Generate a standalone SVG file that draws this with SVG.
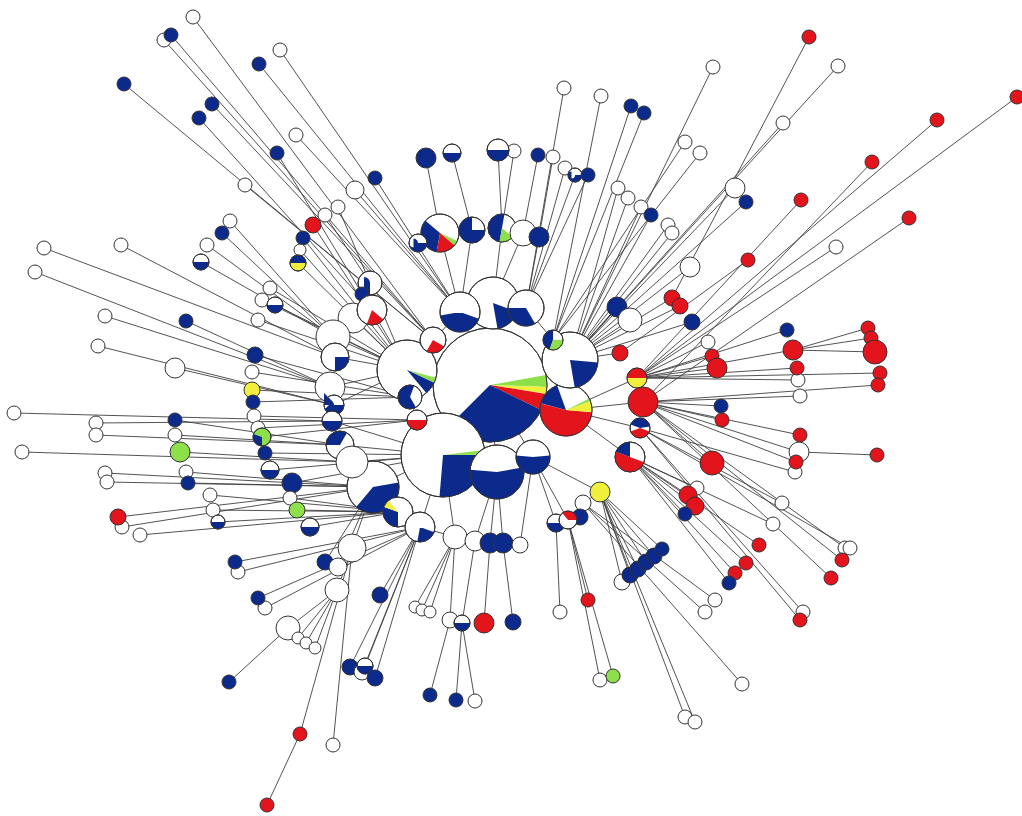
<svg xmlns="http://www.w3.org/2000/svg" width="1022" height="816" viewBox="0 0 1022 816">
<style>
.e path{stroke:#404040;stroke-width:0.9;fill:none}
circle.W{fill:#fff;stroke:#333;stroke-width:1}
circle.B{fill:#0c2a8c;stroke:#333;stroke-width:1}
circle.R{fill:#e3141c;stroke:#333;stroke-width:1}
circle.G{fill:#8ee04a;stroke:#333;stroke-width:1}
circle.Y{fill:#f0f03c;stroke:#333;stroke-width:1}
circle.s{fill:none}
.sb{stroke:#0c2a8c}.sr{stroke:#e3141c}.sg{stroke:#8ee04a}.sy{stroke:#f0f03c}
circle.o{fill:none;stroke:#333;stroke-width:1}
</style>
<rect width="1022" height="816" fill="#fff"/>
<g id="connectors" class="e">
<path d="M193 17L433 340"/><path d="M164 40L433 340"/><path d="M171 35L433 340"/><path d="M124 84L433 340"/><path d="M212 104L433 340"/><path d="M199 118L372 310"/><path d="M259 64L460 312"/><path d="M280 50L460 312"/><path d="M296 135L460 312"/><path d="M277 153L372 310"/><path d="M245 185L433 340"/><path d="M313 225L407 370"/><path d="M303 238L407 370"/><path d="M325 215L370 283"/><path d="M338 207L370 283"/><path d="M298 263L407 370"/><path d="M300 250L407 370"/><path d="M222 233L333 337"/><path d="M230 221L333 337"/><path d="M207 245L333 337"/><path d="M201 262L333 337"/><path d="M44 248L335 357"/><path d="M121 245L335 357"/><path d="M35 272L330 387"/><path d="M355 190L460 312"/><path d="M375 178L460 312"/>
<path d="M105 316L330 387"/><path d="M186 321L330 387"/><path d="M98 346L334 405"/><path d="M175 368L334 405"/><path d="M14 413L332 421"/><path d="M96 423L332 421"/><path d="M96 435L340 445"/><path d="M175 420L340 445"/><path d="M175 435L340 445"/><path d="M180 452L352 462"/><path d="M22 452L352 462"/><path d="M105 473L373 487"/><path d="M107 482L373 487"/><path d="M186 472L373 487"/><path d="M188 483L373 487"/><path d="M118 517L373 487"/><path d="M122 527L373 487"/><path d="M140 535L398 512"/><path d="M210 495L398 512"/><path d="M213 510L398 512"/><path d="M218 522L398 512"/>
<path d="M270 288L407 370"/><path d="M262 300L407 370"/><path d="M275 305L407 370"/><path d="M258 320L407 370"/><path d="M255 355L410 397"/><path d="M252 372L410 397"/><path d="M252 390L410 397"/><path d="M253 402L410 397"/><path d="M254 416L417 420"/><path d="M258 428L417 420"/><path d="M262 437L417 420"/><path d="M265 453L443 455"/><path d="M270 470L443 455"/><path d="M292 483L443 455"/><path d="M290 498L398 512"/><path d="M297 510L398 512"/><path d="M310 527L398 512"/>
<path d="M235 562L420 527"/><path d="M238 572L420 527"/><path d="M258 598L420 527"/><path d="M265 608L420 527"/><path d="M288 628L337 590"/><path d="M298 638L337 590"/><path d="M306 643L337 590"/><path d="M315 648L337 590"/><path d="M229 682L288 628"/><path d="M300 734L352 548"/><path d="M267 805L300 734"/><path d="M333 745L352 548"/><path d="M325 562L373 487"/><path d="M338 567L373 487"/>
<path d="M380 595L420 527"/><path d="M350 667L420 527"/><path d="M362 672L420 527"/><path d="M375 678L420 527"/><path d="M365 666L420 527"/><path d="M415 607L455 537"/><path d="M422 610L455 537"/><path d="M430 612L455 537"/><path d="M450 620L455 537"/><path d="M462 623L475 541"/><path d="M484 623L490 543"/><path d="M513 622L503 543"/><path d="M430 695L450 620"/><path d="M456 700L462 623"/><path d="M475 701L462 623"/>
<path d="M560 612L556 523"/><path d="M588 600L568 520"/><path d="M600 680L568 520"/><path d="M613 676L568 520"/><path d="M622 582L600 492"/><path d="M630 575L600 492"/><path d="M638 569L600 492"/><path d="M646 562L600 492"/><path d="M654 556L600 492"/><path d="M662 549L600 492"/><path d="M685 717L600 492"/><path d="M695 722L600 492"/><path d="M742 684L583 503"/><path d="M715 600L583 503"/><path d="M705 612L583 503"/>
<path d="M729 583L630 457"/><path d="M735 573L630 457"/><path d="M746 563L630 457"/><path d="M800 620L640 428"/><path d="M803 612L640 428"/><path d="M831 578L643 402"/><path d="M845 548L643 402"/><path d="M842 560L643 402"/><path d="M759 545L630 457"/><path d="M773 524L630 457"/><path d="M782 503L640 428"/><path d="M850 548L640 428"/><path d="M688 495L630 457"/><path d="M695 506L630 457"/><path d="M685 514L630 457"/><path d="M697 488L630 457"/><path d="M712 463L643 402"/><path d="M800 435L643 402"/><path d="M799 452L643 402"/><path d="M796 462L643 402"/><path d="M795 472L640 428"/><path d="M877 455L799 452"/><path d="M721 406L643 402"/><path d="M722 420L643 402"/><path d="M800 396L643 402"/><path d="M880 373L637 378"/><path d="M878 385L643 402"/><path d="M797 368L637 378"/><path d="M798 380L637 378"/><path d="M708 342L637 378"/><path d="M712 356L637 378"/><path d="M717 368L637 378"/><path d="M793 350L637 378"/><path d="M787 330L637 378"/><path d="M868 328L793 350"/><path d="M871 338L793 350"/><path d="M875 352L793 350"/>
<path d="M672 298L570 360"/><path d="M680 306L570 360"/><path d="M692 322L570 360"/><path d="M809 37L672 298"/><path d="M713 67L570 360"/><path d="M838 66L570 360"/><path d="M783 123L570 360"/><path d="M1017 97L637 378"/><path d="M937 120L637 378"/><path d="M872 162L643 402"/><path d="M801 200L637 378"/><path d="M909 218L643 402"/><path d="M836 247L637 378"/><path d="M748 260L620 353"/><path d="M685 142L553 340"/><path d="M700 153L553 340"/><path d="M735 188L570 360"/><path d="M746 202L570 360"/><path d="M690 267L570 360"/>
<path d="M426 158L440 233"/><path d="M452 153L472 230"/><path d="M498 150L502 228"/><path d="M514 151L502 228"/><path d="M538 155L523 233"/><path d="M553 157L539 237"/><path d="M565 168L526 308"/><path d="M575 175L526 308"/><path d="M588 175L526 308"/><path d="M564 88L526 308"/><path d="M601 96L553 340"/><path d="M631 106L553 340"/><path d="M644 113L553 340"/><path d="M618 188L570 360"/><path d="M628 198L570 360"/><path d="M641 207L570 360"/><path d="M651 215L570 360"/><path d="M668 225L570 360"/><path d="M672 233L570 360"/>
<path d="M490 385L566 410"/><path d="M490 385L443 455"/><path d="M490 385L497 472"/><path d="M490 385L533 457"/><path d="M490 385L493 303"/><path d="M490 385L460 312"/><path d="M490 385L570 360"/><path d="M490 385L407 370"/><path d="M407 370L433 340"/><path d="M433 340L460 312"/><path d="M493 303L526 308"/><path d="M493 303L460 312"/><path d="M526 308L570 360"/><path d="M460 312L440 233"/><path d="M460 312L472 230"/><path d="M493 303L502 228"/><path d="M493 303L523 233"/><path d="M526 308L539 237"/><path d="M440 233L418 243"/><path d="M407 370L410 397"/><path d="M410 397L417 420"/><path d="M417 420L443 455"/><path d="M443 455L373 487"/><path d="M373 487L398 512"/><path d="M398 512L420 527"/><path d="M443 455L420 527"/><path d="M420 527L455 537"/><path d="M443 455L455 537"/><path d="M497 472L475 541"/><path d="M497 472L490 543"/><path d="M497 472L503 543"/><path d="M533 457L520 545"/><path d="M570 360L553 340"/><path d="M566 410L637 378"/><path d="M566 410L643 402"/><path d="M566 410L640 428"/><path d="M566 410L630 457"/><path d="M533 457L600 492"/><path d="M600 492L583 503"/><path d="M533 457L556 523"/><path d="M533 457L568 520"/><path d="M568 520L580 517"/><path d="M570 360L617 307"/><path d="M570 360L630 320"/><path d="M570 360L620 353"/><path d="M407 370L370 283"/><path d="M370 283L362 294"/><path d="M407 370L372 310"/><path d="M407 370L353 318"/><path d="M407 370L333 337"/><path d="M407 370L335 357"/><path d="M407 370L330 387"/><path d="M407 370L334 405"/><path d="M443 455L332 421"/><path d="M443 455L340 445"/><path d="M443 455L352 462"/><path d="M337 590L352 548"/><path d="M352 548L373 487"/>
</g>
<g id="hA"><circle class="W" cx="490" cy="385" r="57"/><circle class="s sg" cx="490" cy="385" r="28.5" stroke-width="57" pathLength="360" stroke-dasharray="12 360" transform="rotate(-10 490 385)"/><circle class="s sy" cx="490" cy="385" r="28.5" stroke-width="57" pathLength="360" stroke-dasharray="7 360" transform="rotate(2 490 385)"/><circle class="s sr" cx="490" cy="385" r="28.5" stroke-width="57" pathLength="360" stroke-dasharray="17 360" transform="rotate(9 490 385)"/><circle class="s sb" cx="490" cy="385" r="28.5" stroke-width="57" pathLength="360" stroke-dasharray="109 360" transform="rotate(26 490 385)"/><circle class="o" cx="490" cy="385" r="57"/></g>
<g id="hC"><circle class="W" cx="443" cy="455" r="42"/><circle class="s sg" cx="443" cy="455" r="21" stroke-width="42" pathLength="360" stroke-dasharray="7 360" transform="rotate(-7 443 455)"/><circle class="s sb" cx="443" cy="455" r="21" stroke-width="42" pathLength="360" stroke-dasharray="95 360" transform="rotate(0 443 455)"/><circle class="o" cx="443" cy="455" r="42"/></g>
<g id="hD"><circle class="W" cx="497" cy="472" r="27"/><circle class="s sb" cx="497" cy="472" r="13.5" stroke-width="27" pathLength="360" stroke-dasharray="195 360" transform="rotate(-10 497 472)"/><circle class="o" cx="497" cy="472" r="27"/></g>
<g id="hE"><circle class="W" cx="533" cy="457" r="17"/><circle class="s sb" cx="533" cy="457" r="8.5" stroke-width="17" pathLength="360" stroke-dasharray="190 360" transform="rotate(-5 533 457)"/><circle class="o" cx="533" cy="457" r="17"/></g>
<g id="hB"><circle class="W" cx="566" cy="410" r="26"/><circle class="s sr" cx="566" cy="410" r="13" stroke-width="26" pathLength="360" stroke-dasharray="190 360" transform="rotate(5 566 410)"/><circle class="s sb" cx="566" cy="410" r="13" stroke-width="26" pathLength="360" stroke-dasharray="55 360" transform="rotate(195 566 410)"/><circle class="s sy" cx="566" cy="410" r="13" stroke-width="26" pathLength="360" stroke-dasharray="25 360" transform="rotate(-20 566 410)"/><circle class="s sg" cx="566" cy="410" r="13" stroke-width="26" pathLength="360" stroke-dasharray="6 360" transform="rotate(-26 566 410)"/><circle class="o" cx="566" cy="410" r="26"/></g>
<g id="hH"><circle class="W" cx="570" cy="360" r="28"/><circle class="s sb" cx="570" cy="360" r="14" stroke-width="28" pathLength="360" stroke-dasharray="75 360" transform="rotate(5 570 360)"/><circle class="o" cx="570" cy="360" r="28"/></g>
<g id="hF1"><circle class="W" cx="493" cy="303" r="26"/><circle class="s sb" cx="493" cy="303" r="13" stroke-width="26" pathLength="360" stroke-dasharray="60 360" transform="rotate(20 493 303)"/><circle class="o" cx="493" cy="303" r="26"/></g>
<g id="hF2"><circle class="W" cx="526" cy="308" r="18"/><circle class="s sb" cx="526" cy="308" r="9" stroke-width="18" pathLength="360" stroke-dasharray="120 360" transform="rotate(60 526 308)"/><circle class="o" cx="526" cy="308" r="18"/></g>
<g id="hG"><circle class="W" cx="460" cy="312" r="20"/><circle class="s sb" cx="460" cy="312" r="10" stroke-width="20" pathLength="360" stroke-dasharray="150 360" transform="rotate(20 460 312)"/><circle class="o" cx="460" cy="312" r="20"/></g>
<g id="hI"><circle class="W" cx="407" cy="370" r="30"/><circle class="s sg" cx="407" cy="370" r="15" stroke-width="30" pathLength="360" stroke-dasharray="10 360" transform="rotate(15 407 370)"/><circle class="s sb" cx="407" cy="370" r="15" stroke-width="30" pathLength="360" stroke-dasharray="25 360" transform="rotate(25 407 370)"/><circle class="o" cx="407" cy="370" r="30"/></g>
<g id="hJ"><circle class="W" cx="373" cy="487" r="26"/><circle class="s sb" cx="373" cy="487" r="13" stroke-width="26" pathLength="360" stroke-dasharray="140 360" transform="rotate(-10 373 487)"/><circle class="o" cx="373" cy="487" r="26"/></g>
<g id="hK"><circle class="W" cx="440" cy="233" r="19"/><circle class="s sb" cx="440" cy="233" r="9.5" stroke-width="19" pathLength="360" stroke-dasharray="120 360" transform="rotate(100 440 233)"/><circle class="s sr" cx="440" cy="233" r="9.5" stroke-width="19" pathLength="360" stroke-dasharray="60 360" transform="rotate(40 440 233)"/><circle class="s sg" cx="440" cy="233" r="9.5" stroke-width="19" pathLength="360" stroke-dasharray="15 360" transform="rotate(25 440 233)"/><circle class="o" cx="440" cy="233" r="19"/></g>
<g id="hL"><circle class="W" cx="472" cy="230" r="13"/><circle class="s sb" cx="472" cy="230" r="6.5" stroke-width="13" pathLength="360" stroke-dasharray="270 360" transform="rotate(0 472 230)"/><circle class="o" cx="472" cy="230" r="13"/></g>
<g id="hM"><circle class="W" cx="502" cy="228" r="14"/><circle class="s sb" cx="502" cy="228" r="7" stroke-width="14" pathLength="360" stroke-dasharray="180 360" transform="rotate(100 502 228)"/><circle class="s sg" cx="502" cy="228" r="7" stroke-width="14" pathLength="360" stroke-dasharray="60 360" transform="rotate(40 502 228)"/><circle class="o" cx="502" cy="228" r="14"/></g>
<g id="hN"><circle class="W" cx="523" cy="233" r="13"/></g>
<g id="hO"><circle class="B" cx="539" cy="237" r="10"/></g>
<g id="hP"><circle class="W" cx="418" cy="243" r="9"/><circle class="s sb" cx="418" cy="243" r="4.5" stroke-width="9" pathLength="360" stroke-dasharray="180 360"/><circle class="o" cx="418" cy="243" r="9"/></g>
<g id="hQ"><circle class="W" cx="433" cy="340" r="13"/><circle class="s sr" cx="433" cy="340" r="6.5" stroke-width="13" pathLength="360" stroke-dasharray="90 360" transform="rotate(30 433 340)"/><circle class="o" cx="433" cy="340" r="13"/></g>
<g id="hS1"><circle class="W" cx="553" cy="340" r="10"/><circle class="s sb" cx="553" cy="340" r="5" stroke-width="10" pathLength="360" stroke-dasharray="160 360" transform="rotate(110 553 340)"/><circle class="s sg" cx="553" cy="340" r="5" stroke-width="10" pathLength="360" stroke-dasharray="110 360"/><circle class="o" cx="553" cy="340" r="10"/></g>
<g id="hS2"><circle class="W" cx="410" cy="397" r="12"/><circle class="s sb" cx="410" cy="397" r="6" stroke-width="12" pathLength="360" stroke-dasharray="230 360" transform="rotate(60 410 397)"/><circle class="o" cx="410" cy="397" r="12"/></g>
<g id="hS3"><circle class="W" cx="417" cy="420" r="10"/><circle class="s sr" cx="417" cy="420" r="5" stroke-width="10" pathLength="360" stroke-dasharray="180 360"/><circle class="o" cx="417" cy="420" r="10"/></g>
<g id="hS4"><circle class="W" cx="398" cy="512" r="15"/><circle class="s sb" cx="398" cy="512" r="7.5" stroke-width="15" pathLength="360" stroke-dasharray="110 360" transform="rotate(90 398 512)"/><circle class="s sy" cx="398" cy="512" r="7.5" stroke-width="15" pathLength="360" stroke-dasharray="30 360" transform="rotate(200 398 512)"/><circle class="o" cx="398" cy="512" r="15"/></g>
<g id="hS5"><circle class="W" cx="420" cy="527" r="15"/><circle class="s sb" cx="420" cy="527" r="7.5" stroke-width="15" pathLength="360" stroke-dasharray="80 360" transform="rotate(20 420 527)"/><circle class="o" cx="420" cy="527" r="15"/></g>
<g id="hS6"><circle class="W" cx="455" cy="537" r="12"/></g>
<g id="hS7"><circle class="W" cx="475" cy="541" r="10"/></g>
<g id="hS8"><circle class="B" cx="490" cy="543" r="10"/></g>
<g id="hS9"><circle class="B" cx="503" cy="543" r="10"/></g>
<g id="hS10"><circle class="W" cx="520" cy="545" r="8"/></g>
<g id="hLR1"><circle class="W" cx="370" cy="283" r="12"/><circle class="s sb" cx="370" cy="283" r="6" stroke-width="12" pathLength="360" stroke-dasharray="90 360" transform="rotate(90 370 283)"/><circle class="o" cx="370" cy="283" r="12"/></g>
<g id="hLR2"><circle class="B" cx="362" cy="294" r="7"/></g>
<g id="hLR4"><circle class="W" cx="353" cy="318" r="15"/></g>
<g id="hLR3"><circle class="W" cx="372" cy="310" r="15"/><circle class="s sr" cx="372" cy="310" r="7.5" stroke-width="15" pathLength="360" stroke-dasharray="70 360" transform="rotate(40 372 310)"/><circle class="o" cx="372" cy="310" r="15"/></g>
<g id="hLR5"><circle class="W" cx="333" cy="337" r="17"/></g>
<g id="hLR6"><circle class="W" cx="335" cy="357" r="14"/><circle class="s sb" cx="335" cy="357" r="7" stroke-width="14" pathLength="360" stroke-dasharray="90 360"/><circle class="o" cx="335" cy="357" r="14"/></g>
<g id="hLR7"><circle class="W" cx="330" cy="387" r="15"/></g>
<g id="hLR8"><circle class="W" cx="334" cy="405" r="10"/><circle class="s sb" cx="334" cy="405" r="5" stroke-width="10" pathLength="360" stroke-dasharray="180 360"/><circle class="o" cx="334" cy="405" r="10"/></g>
<g id="hLR9"><circle class="W" cx="332" cy="421" r="10"/><circle class="s sb" cx="332" cy="421" r="5" stroke-width="10" pathLength="360" stroke-dasharray="180 360"/><circle class="o" cx="332" cy="421" r="10"/></g>
<g id="hLR10"><circle class="W" cx="340" cy="445" r="14"/><circle class="s sb" cx="340" cy="445" r="7" stroke-width="14" pathLength="360" stroke-dasharray="120 360" transform="rotate(180 340 445)"/><circle class="o" cx="340" cy="445" r="14"/></g>
<g id="hLR11"><circle class="W" cx="352" cy="462" r="16"/></g>
<g id="hM2"><circle class="W" cx="352" cy="548" r="14"/></g>
<g id="hM1"><circle class="W" cx="337" cy="590" r="12"/></g>
<g id="hR1"><circle class="B" cx="617" cy="307" r="10"/></g>
<g id="hR2"><circle class="W" cx="630" cy="320" r="12"/></g>
<g id="hR3"><circle class="R" cx="620" cy="353" r="8"/></g>
<g id="hR4"><circle class="W" cx="637" cy="378" r="10"/><circle class="s sy" cx="637" cy="378" r="5" stroke-width="10" pathLength="360" stroke-dasharray="180 360"/><circle class="s sr" cx="637" cy="378" r="5" stroke-width="10" pathLength="360" stroke-dasharray="180 360" transform="rotate(180 637 378)"/><circle class="o" cx="637" cy="378" r="10"/></g>
<g id="hR5"><circle class="R" cx="643" cy="402" r="15"/></g>
<g id="hR6"><circle class="W" cx="640" cy="428" r="10"/><circle class="s sb" cx="640" cy="428" r="5" stroke-width="10" pathLength="360" stroke-dasharray="150 360" transform="rotate(200 640 428)"/><circle class="s sr" cx="640" cy="428" r="5" stroke-width="10" pathLength="360" stroke-dasharray="140 360" transform="rotate(20 640 428)"/><circle class="o" cx="640" cy="428" r="10"/></g>
<g id="hR7"><circle class="W" cx="630" cy="457" r="15"/><circle class="s sr" cx="630" cy="457" r="7.5" stroke-width="15" pathLength="360" stroke-dasharray="180 360" transform="rotate(20 630 457)"/><circle class="s sb" cx="630" cy="457" r="7.5" stroke-width="15" pathLength="360" stroke-dasharray="70 360" transform="rotate(200 630 457)"/><circle class="o" cx="630" cy="457" r="15"/></g>
<g id="hR8"><circle class="Y" cx="600" cy="492" r="10"/></g>
<g id="hR9"><circle class="W" cx="583" cy="503" r="8"/></g>
<g id="hR10"><circle class="W" cx="556" cy="523" r="9"/><circle class="s sb" cx="556" cy="523" r="4.5" stroke-width="9" pathLength="360" stroke-dasharray="180 360"/><circle class="o" cx="556" cy="523" r="9"/></g>
<g id="hR12"><circle class="B" cx="580" cy="517" r="8"/></g>
<g id="hR11"><circle class="W" cx="568" cy="520" r="9"/><circle class="s sr" cx="568" cy="520" r="4.5" stroke-width="9" pathLength="360" stroke-dasharray="130 360" transform="rotate(230 568 520)"/><circle class="o" cx="568" cy="520" r="9"/></g>
<g id="n1"><circle class="W" cx="193" cy="17" r="7"/></g>
<g id="n2"><circle class="W" cx="164" cy="40" r="7"/></g>
<g id="n3"><circle class="B" cx="171" cy="35" r="7"/></g>
<g id="n4"><circle class="B" cx="124" cy="84" r="7"/></g>
<g id="n5"><circle class="B" cx="212" cy="104" r="7"/></g>
<g id="n6"><circle class="B" cx="199" cy="118" r="7"/></g>
<g id="n7"><circle class="B" cx="259" cy="64" r="7"/></g>
<g id="n8"><circle class="W" cx="280" cy="50" r="7"/></g>
<g id="n9"><circle class="W" cx="296" cy="135" r="7"/></g>
<g id="n10"><circle class="B" cx="277" cy="153" r="7"/></g>
<g id="n11"><circle class="W" cx="245" cy="185" r="7"/></g>
<g id="n14"><circle class="W" cx="325" cy="215" r="7"/></g>
<g id="n15"><circle class="W" cx="338" cy="207" r="7"/></g>
<g id="n12"><circle class="R" cx="313" cy="225" r="8"/></g>
<g id="n13"><circle class="B" cx="303" cy="238" r="7"/></g>
<g id="n17"><circle class="W" cx="300" cy="250" r="6"/></g>
<g id="n16"><circle class="Y" cx="298" cy="263" r="8"/><circle class="s sb" cx="298" cy="263" r="4" stroke-width="8" pathLength="360" stroke-dasharray="180 360" transform="rotate(180 298 263)"/><circle class="o" cx="298" cy="263" r="8"/></g>
<g id="n19"><circle class="W" cx="230" cy="221" r="7"/></g>
<g id="n18"><circle class="B" cx="222" cy="233" r="7"/></g>
<g id="n20"><circle class="W" cx="207" cy="245" r="7"/></g>
<g id="n21"><circle class="W" cx="201" cy="262" r="8"/><circle class="s sb" cx="201" cy="262" r="4" stroke-width="8" pathLength="360" stroke-dasharray="180 360"/><circle class="o" cx="201" cy="262" r="8"/></g>
<g id="n22"><circle class="W" cx="44" cy="248" r="7"/></g>
<g id="n23"><circle class="W" cx="121" cy="245" r="7"/></g>
<g id="n24"><circle class="W" cx="35" cy="272" r="7"/></g>
<g id="n25"><circle class="W" cx="355" cy="190" r="9"/></g>
<g id="n26"><circle class="B" cx="375" cy="178" r="7"/></g>
<g id="n27"><circle class="W" cx="105" cy="316" r="7"/></g>
<g id="n28"><circle class="B" cx="186" cy="321" r="7"/></g>
<g id="n29"><circle class="W" cx="98" cy="346" r="7"/></g>
<g id="n30"><circle class="W" cx="175" cy="368" r="10"/></g>
<g id="n31"><circle class="W" cx="14" cy="413" r="7"/></g>
<g id="n32"><circle class="W" cx="96" cy="423" r="7"/></g>
<g id="n33"><circle class="W" cx="96" cy="435" r="7"/></g>
<g id="n34"><circle class="B" cx="175" cy="420" r="7"/></g>
<g id="n35"><circle class="W" cx="175" cy="435" r="7"/></g>
<g id="n36"><circle class="G" cx="180" cy="452" r="10"/></g>
<g id="n37"><circle class="W" cx="22" cy="452" r="7"/></g>
<g id="n38"><circle class="W" cx="105" cy="473" r="7"/></g>
<g id="n39"><circle class="W" cx="107" cy="482" r="7"/></g>
<g id="n40"><circle class="W" cx="186" cy="472" r="7"/></g>
<g id="n41"><circle class="B" cx="188" cy="483" r="7"/></g>
<g id="n43"><circle class="W" cx="122" cy="527" r="7"/></g>
<g id="n42"><circle class="R" cx="118" cy="517" r="8"/></g>
<g id="n44"><circle class="W" cx="140" cy="535" r="7"/></g>
<g id="n45"><circle class="W" cx="210" cy="495" r="7"/></g>
<g id="n46"><circle class="W" cx="213" cy="510" r="7"/></g>
<g id="n47"><circle class="W" cx="218" cy="522" r="7"/><circle class="s sb" cx="218" cy="522" r="3.5" stroke-width="7" pathLength="360" stroke-dasharray="180 360"/><circle class="o" cx="218" cy="522" r="7"/></g>
<g id="n48"><circle class="W" cx="270" cy="288" r="7"/></g>
<g id="n49"><circle class="W" cx="262" cy="300" r="7"/></g>
<g id="n50"><circle class="W" cx="275" cy="305" r="8"/><circle class="s sb" cx="275" cy="305" r="4" stroke-width="8" pathLength="360" stroke-dasharray="180 360"/><circle class="o" cx="275" cy="305" r="8"/></g>
<g id="n51"><circle class="W" cx="258" cy="320" r="7"/></g>
<g id="n52"><circle class="B" cx="255" cy="355" r="8"/></g>
<g id="n53"><circle class="W" cx="252" cy="372" r="7"/></g>
<g id="n54"><circle class="Y" cx="252" cy="390" r="8"/></g>
<g id="n55"><circle class="B" cx="253" cy="402" r="7"/></g>
<g id="n56"><circle class="W" cx="254" cy="416" r="7"/></g>
<g id="n57"><circle class="W" cx="258" cy="428" r="7"/></g>
<g id="n58"><circle class="G" cx="262" cy="437" r="9"/><circle class="s sb" cx="262" cy="437" r="4.5" stroke-width="9" pathLength="360" stroke-dasharray="110 360" transform="rotate(90 262 437)"/><circle class="o" cx="262" cy="437" r="9"/></g>
<g id="n59"><circle class="B" cx="265" cy="453" r="7"/></g>
<g id="n60"><circle class="W" cx="270" cy="470" r="9"/><circle class="s sb" cx="270" cy="470" r="4.5" stroke-width="9" pathLength="360" stroke-dasharray="180 360"/><circle class="o" cx="270" cy="470" r="9"/></g>
<g id="n61"><circle class="B" cx="292" cy="483" r="10"/></g>
<g id="n62"><circle class="W" cx="290" cy="498" r="7"/></g>
<g id="n63"><circle class="G" cx="297" cy="510" r="8"/></g>
<g id="n64"><circle class="W" cx="310" cy="527" r="9"/><circle class="s sb" cx="310" cy="527" r="4.5" stroke-width="9" pathLength="360" stroke-dasharray="180 360"/><circle class="o" cx="310" cy="527" r="9"/></g>
<g id="n66"><circle class="W" cx="238" cy="572" r="7"/></g>
<g id="n65"><circle class="B" cx="235" cy="562" r="7"/></g>
<g id="n68"><circle class="W" cx="265" cy="608" r="7"/></g>
<g id="n67"><circle class="B" cx="258" cy="598" r="7"/></g>
<g id="n69"><circle class="W" cx="288" cy="628" r="12"/></g>
<g id="n70"><circle class="W" cx="298" cy="638" r="6"/></g>
<g id="n71"><circle class="W" cx="306" cy="643" r="6"/></g>
<g id="n72"><circle class="W" cx="315" cy="648" r="6"/></g>
<g id="n73"><circle class="B" cx="229" cy="682" r="7"/></g>
<g id="n74"><circle class="R" cx="300" cy="734" r="7"/></g>
<g id="n75"><circle class="R" cx="267" cy="805" r="7"/></g>
<g id="n76"><circle class="W" cx="333" cy="745" r="7"/></g>
<g id="n77"><circle class="B" cx="325" cy="562" r="8"/></g>
<g id="n78"><circle class="W" cx="338" cy="567" r="9"/></g>
<g id="n79"><circle class="B" cx="380" cy="595" r="8"/></g>
<g id="n80"><circle class="B" cx="350" cy="667" r="8"/></g>
<g id="n81"><circle class="W" cx="362" cy="672" r="8"/></g>
<g id="n83"><circle class="W" cx="365" cy="666" r="8"/><circle class="s sb" cx="365" cy="666" r="4" stroke-width="8" pathLength="360" stroke-dasharray="180 360"/><circle class="o" cx="365" cy="666" r="8"/></g>
<g id="n82"><circle class="B" cx="375" cy="678" r="8"/></g>
<g id="n84"><circle class="W" cx="415" cy="607" r="6"/></g>
<g id="n85"><circle class="W" cx="422" cy="610" r="6"/></g>
<g id="n86"><circle class="W" cx="430" cy="612" r="6"/></g>
<g id="n87"><circle class="W" cx="450" cy="620" r="8"/></g>
<g id="n88"><circle class="W" cx="462" cy="623" r="8"/><circle class="s sb" cx="462" cy="623" r="4" stroke-width="8" pathLength="360" stroke-dasharray="180 360"/><circle class="o" cx="462" cy="623" r="8"/></g>
<g id="n89"><circle class="R" cx="484" cy="623" r="10"/></g>
<g id="n90"><circle class="B" cx="513" cy="622" r="8"/></g>
<g id="n91"><circle class="B" cx="430" cy="695" r="7"/></g>
<g id="n92"><circle class="B" cx="456" cy="700" r="7"/></g>
<g id="n93"><circle class="W" cx="475" cy="701" r="7"/></g>
<g id="n94"><circle class="W" cx="560" cy="612" r="7"/></g>
<g id="n95"><circle class="R" cx="588" cy="600" r="7"/></g>
<g id="n96"><circle class="W" cx="600" cy="680" r="7"/></g>
<g id="n97"><circle class="G" cx="613" cy="676" r="7"/></g>
<g id="n98"><circle class="W" cx="622" cy="582" r="8"/></g>
<g id="n99"><circle class="B" cx="630" cy="575" r="8"/></g>
<g id="n100"><circle class="B" cx="638" cy="569" r="8"/></g>
<g id="n101"><circle class="B" cx="646" cy="562" r="8"/></g>
<g id="n102"><circle class="B" cx="654" cy="556" r="8"/></g>
<g id="n103"><circle class="B" cx="662" cy="549" r="7"/></g>
<g id="n104"><circle class="W" cx="685" cy="717" r="7"/></g>
<g id="n105"><circle class="W" cx="695" cy="722" r="7"/></g>
<g id="n106"><circle class="W" cx="742" cy="684" r="7"/></g>
<g id="n107"><circle class="W" cx="715" cy="600" r="7"/></g>
<g id="n108"><circle class="W" cx="705" cy="612" r="7"/></g>
<g id="n111"><circle class="R" cx="746" cy="563" r="7"/></g>
<g id="n110"><circle class="R" cx="735" cy="573" r="7"/></g>
<g id="n109"><circle class="B" cx="729" cy="583" r="7"/></g>
<g id="n113"><circle class="W" cx="803" cy="612" r="7"/></g>
<g id="n112"><circle class="R" cx="800" cy="620" r="7"/></g>
<g id="n114"><circle class="R" cx="831" cy="578" r="7"/></g>
<g id="n115"><circle class="W" cx="845" cy="548" r="7"/></g>
<g id="n116"><circle class="R" cx="842" cy="560" r="7"/></g>
<g id="n117"><circle class="R" cx="759" cy="545" r="7"/></g>
<g id="n118"><circle class="W" cx="773" cy="524" r="7"/></g>
<g id="n119"><circle class="W" cx="782" cy="503" r="7"/></g>
<g id="n120"><circle class="W" cx="850" cy="548" r="7"/></g>
<g id="n124"><circle class="W" cx="697" cy="488" r="7"/></g>
<g id="n121"><circle class="R" cx="688" cy="495" r="9"/></g>
<g id="n122"><circle class="R" cx="695" cy="506" r="9"/></g>
<g id="n123"><circle class="B" cx="685" cy="514" r="7"/></g>
<g id="n125"><circle class="R" cx="712" cy="463" r="12"/></g>
<g id="n126"><circle class="R" cx="800" cy="435" r="7"/></g>
<g id="n129"><circle class="W" cx="795" cy="472" r="7"/></g>
<g id="n127"><circle class="W" cx="799" cy="452" r="10"/></g>
<g id="n128"><circle class="R" cx="796" cy="462" r="7"/></g>
<g id="n130"><circle class="R" cx="877" cy="455" r="7"/></g>
<g id="n131"><circle class="B" cx="721" cy="406" r="7"/></g>
<g id="n132"><circle class="R" cx="722" cy="420" r="7"/></g>
<g id="n133"><circle class="W" cx="800" cy="396" r="7"/></g>
<g id="n134"><circle class="R" cx="880" cy="373" r="7"/></g>
<g id="n135"><circle class="R" cx="878" cy="385" r="7"/></g>
<g id="n137"><circle class="W" cx="798" cy="380" r="7"/></g>
<g id="n136"><circle class="R" cx="797" cy="368" r="7"/></g>
<g id="n138"><circle class="W" cx="708" cy="342" r="7"/></g>
<g id="n139"><circle class="R" cx="712" cy="356" r="7"/></g>
<g id="n140"><circle class="R" cx="717" cy="368" r="10"/></g>
<g id="n142"><circle class="B" cx="787" cy="330" r="7"/></g>
<g id="n141"><circle class="R" cx="793" cy="350" r="10"/></g>
<g id="n143"><circle class="R" cx="868" cy="328" r="7"/></g>
<g id="n144"><circle class="R" cx="871" cy="338" r="7"/></g>
<g id="n145"><circle class="R" cx="875" cy="352" r="12"/></g>
<g id="n146"><circle class="R" cx="672" cy="298" r="8"/></g>
<g id="n147"><circle class="R" cx="680" cy="306" r="8"/></g>
<g id="n148"><circle class="B" cx="692" cy="322" r="8"/></g>
<g id="n149"><circle class="R" cx="809" cy="37" r="7"/></g>
<g id="n150"><circle class="W" cx="713" cy="67" r="7"/></g>
<g id="n151"><circle class="W" cx="838" cy="66" r="7"/></g>
<g id="n152"><circle class="W" cx="783" cy="123" r="7"/></g>
<g id="n153"><circle class="R" cx="1017" cy="97" r="7"/></g>
<g id="n154"><circle class="R" cx="937" cy="120" r="7"/></g>
<g id="n155"><circle class="R" cx="872" cy="162" r="7"/></g>
<g id="n156"><circle class="R" cx="801" cy="200" r="7"/></g>
<g id="n157"><circle class="R" cx="909" cy="218" r="7"/></g>
<g id="n158"><circle class="W" cx="836" cy="247" r="7"/></g>
<g id="n159"><circle class="R" cx="748" cy="260" r="7"/></g>
<g id="n160"><circle class="W" cx="685" cy="142" r="7"/></g>
<g id="n161"><circle class="W" cx="700" cy="153" r="7"/></g>
<g id="n162"><circle class="W" cx="735" cy="188" r="10"/></g>
<g id="n163"><circle class="B" cx="746" cy="202" r="7"/></g>
<g id="n164"><circle class="W" cx="690" cy="267" r="10"/></g>
<g id="n165"><circle class="B" cx="426" cy="158" r="10"/></g>
<g id="n166"><circle class="W" cx="452" cy="153" r="9"/><circle class="s sb" cx="452" cy="153" r="4.5" stroke-width="9" pathLength="360" stroke-dasharray="180 360"/><circle class="o" cx="452" cy="153" r="9"/></g>
<g id="n168"><circle class="W" cx="514" cy="151" r="7"/></g>
<g id="n167"><circle class="W" cx="498" cy="150" r="11"/><circle class="s sb" cx="498" cy="150" r="5.5" stroke-width="11" pathLength="360" stroke-dasharray="180 360"/><circle class="o" cx="498" cy="150" r="11"/></g>
<g id="n169"><circle class="B" cx="538" cy="155" r="7"/></g>
<g id="n170"><circle class="W" cx="553" cy="157" r="7"/></g>
<g id="n171"><circle class="W" cx="565" cy="168" r="7"/></g>
<g id="n172"><circle class="W" cx="575" cy="175" r="7"/><circle class="s sb" cx="575" cy="175" r="3.5" stroke-width="7" pathLength="360" stroke-dasharray="180 360"/><circle class="o" cx="575" cy="175" r="7"/></g>
<g id="n173"><circle class="B" cx="588" cy="175" r="7"/></g>
<g id="n174"><circle class="W" cx="564" cy="88" r="7"/></g>
<g id="n175"><circle class="W" cx="601" cy="96" r="7"/></g>
<g id="n176"><circle class="B" cx="631" cy="106" r="7"/></g>
<g id="n177"><circle class="B" cx="644" cy="113" r="7"/></g>
<g id="n178"><circle class="W" cx="618" cy="188" r="7"/></g>
<g id="n179"><circle class="W" cx="628" cy="198" r="7"/></g>
<g id="n180"><circle class="W" cx="641" cy="207" r="7"/></g>
<g id="n181"><circle class="B" cx="651" cy="215" r="7"/></g>
<g id="n182"><circle class="W" cx="668" cy="225" r="7"/></g>
<g id="n183"><circle class="W" cx="672" cy="233" r="7"/></g>
</svg>
